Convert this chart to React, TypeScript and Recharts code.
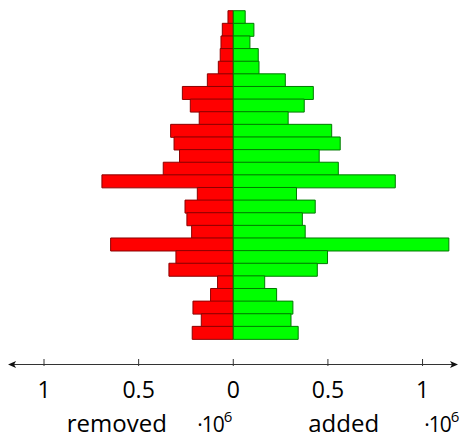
import React from 'react';
import { BarChart, Bar, XAxis, YAxis } from 'recharts';

// values in millions (·10^6), top row first
const removed = [
  0.028, 0.058, 0.065, 0.069, 0.079, 0.137, 0.269, 0.227, 0.18, 0.331, 0.313, 0.284, 0.37,
  0.694, 0.19, 0.255, 0.245, 0.22, 0.648, 0.303, 0.34, 0.083, 0.12, 0.213, 0.169, 0.217,
];
const added = [
  0.063, 0.109, 0.088, 0.132, 0.136, 0.275, 0.423, 0.375, 0.29, 0.52, 0.565, 0.454, 0.555,
  0.856, 0.334, 0.433, 0.365, 0.38, 1.139, 0.498, 0.444, 0.166, 0.229, 0.315, 0.305, 0.343,
];
const categories = removed.map((_, i) => `row ${i + 1}`);
const xTicks = [-1, -0.5, 0, 0.5, 1];
const tickLabels = ['1', '0.5', '0', '0.5', '1'];
const unitLabels = { left: 'removed', right: 'added', unit: '·10', exp: '6' };

const domain: [number, number] = [-1.19, 1.19];

const rows = categories.map((name, i) => ({
  name,
  removed: -removed[i],
  added: added[i],
}));

const FONT = "'Open Sans', sans-serif";

const Tick = (props: any) => {
  const { x, y, payload } = props;
  const i = xTicks.indexOf(payload.value);
  return (
    <g>
      <line x1={x} x2={x} y1={y + 20} y2={y + 27} stroke="#333" strokeWidth={1} />
      <text x={x} y={y + 59} textAnchor="middle" fontFamily={FONT} fontSize={23} fill="#000">
        {tickLabels[i]}
      </text>
    </g>
  );
};

const AxisDecor = (props: any) => {
  const { x, y, width } = props.viewBox;
  const ly = y + 25.5;
  const xl = x;
  const xr = x + width - 0.5;
  const px = (v: number) => x + ((v - domain[0]) / (domain[1] - domain[0])) * width;
  const baseline = y + 93;
  return (
    <g>
      <line x1={xl + 3} x2={xr - 3} y1={ly} y2={ly} stroke="#333" strokeWidth={1} />
      <path d={`M${xl},${ly} L${xl + 8},${ly - 3.5} L${xl + 6},${ly} L${xl + 8},${ly + 3.5} Z`} fill="#111" />
      <path d={`M${xr},${ly} L${xr - 8},${ly - 3.5} L${xr - 6},${ly} L${xr - 8},${ly + 3.5} Z`} fill="#111" />
      <text x={px(-0.88)} y={baseline} fontFamily={FONT} fontSize={24} fill="#000">
        {unitLabels.left}
      </text>
      <text x={px(-0.005)} y={baseline} textAnchor="end" fontFamily={FONT} fontSize={21} letterSpacing={-1} fill="#000">
        {unitLabels.unit}
        <tspan dy={-10} fontSize={15} letterSpacing={0}>{unitLabels.exp}</tspan>
      </text>
      <text x={px(0.396)} y={baseline} fontFamily={FONT} fontSize={24} fill="#000">
        {unitLabels.right}
      </text>
      <text x={px(1.195)} y={baseline} textAnchor="end" fontFamily={FONT} fontSize={21} letterSpacing={-1} fill="#000">
        {unitLabels.unit}
        <tspan dy={-10} fontSize={15} letterSpacing={0}>{unitLabels.exp}</tspan>
      </text>
    </g>
  );
};

export default function App() {
  return (
    <div style={{ position: 'absolute', left: 0, top: 0, background: '#fff' }}>
      <BarChart
        layout="vertical"
        width={462}
        height={438}
        data={rows}
        stackOffset="sign"
        barCategoryGap={0}
        margin={{ top: 10.7, right: 3.5, bottom: 0, left: 8.05 }}
      >
        <YAxis type="category" dataKey="name" hide />
        <XAxis
          type="number"
          domain={domain}
          ticks={xTicks}
          allowDataOverflow
          axisLine={false}
          tickLine={false}
          tickSize={0}
          tickMargin={0}
          height={99}
          tick={Tick}
          label={AxisDecor}
        />
        <Bar dataKey="removed" stackId="s" fill="#ff0000" stroke="#8b0000" strokeWidth={1} isAnimationActive={false} />
        <Bar dataKey="added" stackId="s" fill="#00ff00" stroke="#007a00" strokeWidth={1} isAnimationActive={false} />
      </BarChart>
    </div>
  );
}
